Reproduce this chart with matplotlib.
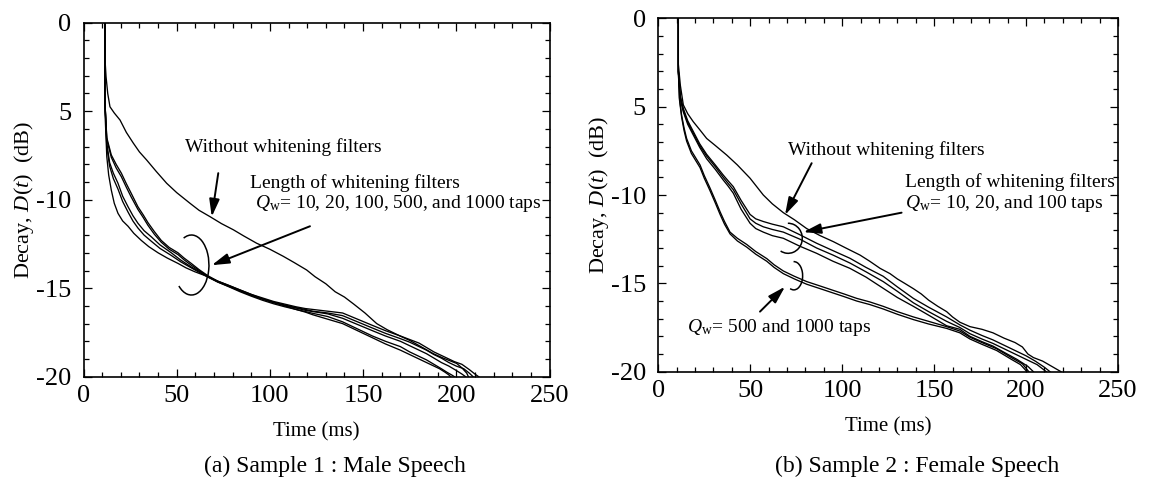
import matplotlib
matplotlib.use("Agg")
import matplotlib.pyplot as plt
from matplotlib.patches import Arc
from matplotlib.ticker import MultipleLocator

plt.rcParams['font.family'] = ['Liberation Serif', 'DejaVu Serif']
plt.rcParams['mathtext.fontset'] = 'custom'
plt.rcParams['mathtext.rm'] = 'Liberation Serif'
plt.rcParams['mathtext.it'] = 'Liberation Serif:italic'
plt.rcParams['axes.unicode_minus'] = False

# ---------------- data ----------------
x_ticks = [0, 50, 100, 150, 200, 250]
y_ticks = [0, -5, -10, -15, -20]
y_tick_labels = ["0", "5", "-10", "-15", "-20"]

# Sample 1 (male speech): (time ms, decay dB)
male_without = [(11.5, 0), (11.5, -2.0), (12.1, -3.05), (13.0, -4.0), (14.2, -4.75), (16.5, -5.1),
                (19.6, -5.5), (23, -6.2), (26.7, -6.8), (30, -7.3), (33.9, -7.76), (39, -8.4),
                (44.6, -9.07), (50, -9.6), (57.1, -10.2), (62, -10.6), (67.9, -10.96), (74, -11.35),
                (80.4, -11.7), (86, -12.05), (92.9, -12.46), (100, -12.8), (107.2, -13.2), (113, -13.55),
                (119.7, -13.97), (124.2, -14.35), (130, -14.75), (135, -15.2), (140, -15.5), (145, -15.9),
                (151, -16.4), (157.3, -17.0), (163, -17.35), (169.8, -17.7), (175, -17.95), (181, -18.3),
                (187.7, -18.7), (193, -18.95), (200.2, -19.25), (203, -19.5), (205.6, -19.8), (206.5, -20)]
male_q10 = [(11.5, 0), (11.5, -4.5), (12.5, -6.5), (14.9, -7.47), (17.5, -8.0), (20.3, -8.5), (23, -9.1),
            (25.6, -9.64), (29.2, -10.4), (32, -10.85), (34.6, -11.3), (38, -11.8), (41.7, -12.3),
            (46, -12.7), (50.7, -13.0), (54, -13.3), (57.8, -13.6), (62, -13.95), (66.8, -14.3),
            (72, -14.6), (78, -14.85), (84, -15.1), (90, -15.35), (96, -15.55), (102, -15.75),
            (108, -15.9), (114, -16.05), (119, -16.15), (123, -16.2), (131, -16.3), (139, -16.4),
            (147, -16.75), (155, -17.1), (162, -17.4), (170, -17.7), (175, -17.9), (180, -18.1),
            (184, -18.35), (188, -18.6), (192, -18.8), (195, -18.95), (199, -19.15), (203, -19.3),
            (207, -19.6), (210, -19.85), (212, -20)]
male_q20 = [(11.5, 0), (11.5, -4.5), (12.5, -6.6), (14.9, -7.6), (17.5, -8.2), (20.3, -8.7), (23, -9.3),
            (25.6, -9.85), (29.2, -10.55), (32, -11.0), (34.6, -11.45), (38, -11.95), (41.7, -12.4),
            (46, -12.8), (50.7, -13.1), (54, -13.4), (57.8, -13.7), (62, -14.0), (66.8, -14.35),
            (72, -14.65), (78, -14.9), (84, -15.15), (90, -15.4), (96, -15.6), (102, -15.8),
            (108, -15.95), (114, -16.1), (119, -16.2), (123, -16.3), (131, -16.4), (139, -16.55),
            (147, -16.9), (155, -17.25), (162, -17.55), (170, -17.85), (175, -18.05), (180, -18.3),
            (184, -18.5), (188, -18.75), (192, -18.95), (196, -19.2), (200, -19.4), (204, -19.55),
            (207, -19.8), (209, -20)]
male_q100 = [(11.5, 0), (11.5, -4.5), (12.5, -6.8), (14, -7.9), (16, -8.5), (18.5, -9.07), (21, -9.8),
             (23.9, -10.4), (26.5, -10.9), (29.2, -11.33), (32.5, -11.75), (36.4, -12.1), (41, -12.55),
             (47.1, -13.0), (52, -13.4), (57.8, -13.8), (62, -14.05), (66.8, -14.35), (72, -14.62),
             (78, -14.88), (84, -15.15), (90, -15.4), (96, -15.62), (102, -15.82), (108, -15.98),
             (114, -16.12), (119, -16.25), (123, -16.32), (131, -16.45), (139, -16.7), (147, -17.05),
             (155, -17.4), (162, -17.7), (170, -18.0), (175, -18.25), (180, -18.5), (184, -18.7),
             (188, -18.95), (192, -19.2), (196, -19.4), (200, -19.65), (203, -19.85), (205, -20)]
male_q500 = [(11.5, 0), (11.5, -4.5), (12.5, -7.0), (14, -8.1), (16, -8.8), (18.5, -9.4), (21, -10.1),
             (23.9, -10.7), (26.5, -11.2), (29.2, -11.6), (32.5, -12.0), (36.4, -12.35), (41, -12.75),
             (47.1, -13.15), (52, -13.5), (57.8, -13.85), (62, -14.1), (66.8, -14.38), (72, -14.65),
             (78, -14.92), (84, -15.2), (90, -15.45), (96, -15.68), (102, -15.88), (108, -16.05),
             (114, -16.2), (119, -16.32), (123, -16.42), (131, -16.6), (139, -16.9), (147, -17.3),
             (155, -17.7), (162, -18.0), (170, -18.3), (175, -18.6), (180, -18.85), (184, -19.05),
             (188, -19.3), (192, -19.55), (195, -19.75), (197.5, -19.9), (199, -20)]
male_q1000 = [(11.5, 0), (11.5, -5.0), (12.5, -7.57), (13.5, -8.6), (14.9, -9.45), (16.5, -10.2),
              (18.5, -10.77), (21, -11.2), (23.9, -11.5), (27, -11.9), (31, -12.3), (35, -12.65),
              (40, -13.0), (45, -13.3), (50.7, -13.6), (55, -13.85), (59.7, -14.07), (66.8, -14.35),
              (72, -14.6), (77.5, -14.82), (84, -15.1), (90, -15.35), (96, -15.6), (102, -15.8),
              (108, -16.0), (114, -16.2), (119, -16.35), (123, -16.5), (131, -16.75), (139, -17.0),
              (147, -17.4), (155, -17.8), (162, -18.15), (170, -18.5), (175, -18.75), (180, -19.0),
              (184, -19.2), (188, -19.4), (191, -19.55), (194, -19.75), (196, -19.9), (197, -20)]

# Sample 2 (female speech)
female_without = [(10.9, 0), (10.9, -2.6), (12, -3.8), (13.6, -4.9), (16, -5.4), (19, -5.85), (22.5, -6.3),
                  (26.3, -6.8), (31, -7.2), (37.2, -7.74), (43, -8.3), (49.9, -9.05), (57.1, -10.0),
                  (62, -10.5), (68, -11.0), (74, -11.4), (80.7, -11.9), (88, -12.3), (95.2, -12.64),
                  (102, -13.0), (109.7, -13.4), (115, -13.75), (120.6, -14.15), (126, -14.45),
                  (130, -14.75), (134, -15.0), (138.7, -15.3), (143, -15.6), (147, -15.95), (152, -16.3),
                  (156.8, -16.6), (160, -16.9), (164, -17.2), (169.5, -17.45), (176, -17.6), (182, -17.8),
                  (188, -18.1), (194, -18.35), (198, -18.6), (201, -19.0), (204, -19.2), (209, -19.4),
                  (214, -19.7), (219, -20)]
female_q10 = [(10.9, 0), (10.9, -3.0), (12, -4.4), (13.6, -5.1), (16, -5.8), (19, -6.4), (22.5, -7.1),
              (26.3, -7.7), (31, -8.3), (35.3, -8.87), (38, -9.2), (40.8, -9.53), (45, -10.3),
              (49.9, -11.1), (53, -11.35), (57.1, -11.5), (62, -11.65), (68, -11.8), (77, -12.25),
              (86.1, -12.73), (95, -13.15), (104.2, -13.58), (113, -14.1), (122.3, -14.6), (130, -15.2),
              (138.7, -15.85), (147, -16.35), (156.8, -16.9), (164, -17.35), (169.5, -17.65),
              (176, -17.95), (182, -18.2), (188, -18.5), (194, -18.8), (200, -19.1), (205, -19.4),
              (210, -19.75), (213, -20)]
female_q20 = [(10.9, 0), (10.9, -3.0), (12, -4.5), (13.6, -5.2), (16, -5.9), (19, -6.5), (22.5, -7.2),
              (26.3, -7.8), (31, -8.4), (35.3, -9.0), (38, -9.35), (40.8, -9.7), (45, -10.5),
              (49.9, -11.35), (53, -11.6), (57.1, -11.8), (62, -11.95), (68, -12.1), (77, -12.5),
              (86.1, -13.0), (95, -13.4), (104.2, -13.85), (113, -14.35), (122.3, -14.9), (130, -15.45),
              (138.7, -16.1), (147, -16.6), (156.8, -17.15), (164, -17.5), (169.5, -17.85),
              (176, -18.15), (182, -18.4), (188, -18.7), (194, -19.0), (200, -19.3), (206, -19.6),
              (211, -20)]
female_q100 = [(10.9, 0), (10.9, -3.0), (12, -4.6), (13.6, -5.3), (16, -6.0), (19, -6.6), (22.5, -7.3),
               (26.3, -7.95), (31, -8.55), (35.3, -9.15), (38, -9.5), (40.8, -9.9), (45, -10.8),
               (49.9, -11.6), (53, -11.9), (57.1, -12.1), (62, -12.3), (68, -12.45), (77, -12.9),
               (86.1, -13.3), (95, -13.75), (104.2, -14.15), (113, -14.65), (122.3, -15.28), (130, -15.8),
               (138.7, -16.3), (147, -16.8), (156.8, -17.4), (164, -17.6), (169.5, -18.0),
               (176, -18.3), (182, -18.55), (188, -18.9), (195, -19.3), (201, -19.7), (204, -20)]
female_q500 = [(10.9, 0), (10.9, -3.0), (11.5, -4.5), (12.7, -5.5), (14, -6.2), (15.4, -6.8), (18, -7.5),
               (22.7, -8.3), (25, -8.9), (28.1, -9.6), (31, -10.3), (33.6, -10.95), (36, -11.5),
               (39, -12.1), (43, -12.45), (48.1, -12.8), (53, -13.2), (59, -13.6), (63, -13.95),
               (68, -14.3), (74, -14.6), (80.7, -14.9), (88, -15.15), (95.2, -15.4), (101, -15.6),
               (107.9, -15.85), (115, -16.05), (122.3, -16.3), (130, -16.6), (138.7, -16.9),
               (147, -17.15), (156.8, -17.45), (164, -17.7), (169.5, -18.05), (176, -18.35),
               (184, -18.7), (192, -19.2), (198, -19.55), (201.5, -20)]
female_q1000 = [(10.9, 0), (10.9, -3.0), (11.5, -4.6), (12.7, -5.6), (14, -6.35), (15.4, -6.95), (18, -7.65),
                (22.7, -8.45), (25, -9.05), (28.1, -9.75), (31, -10.45), (33.6, -11.1), (36, -11.65),
                (39, -12.2), (43, -12.6), (48.1, -12.95), (53, -13.35), (59, -13.75), (63, -14.1),
                (68, -14.45), (74, -14.75), (80.7, -15.05), (88, -15.3), (95.2, -15.55), (101, -15.75),
                (107.9, -16.0), (115, -16.2), (122.3, -16.45), (130, -16.75), (138.7, -17.05),
                (147, -17.3), (156.8, -17.55), (164, -17.8), (169.5, -18.15), (176, -18.45),
                (184, -18.8), (192, -19.3), (197, -19.6), (200.5, -20)]

male_curves = [male_without, male_q10, male_q20, male_q100, male_q500, male_q1000]
female_curves = [female_without, female_q10, female_q20, female_q100, female_q500, female_q1000]

# ---------------- figure ----------------
W, H = 1149, 486
fig = plt.figure(figsize=(W / 100, H / 100), dpi=100)
ax1 = fig.add_axes([83.5 / W, 1 - 376.7 / H, 466 / W, 354 / H])
ax2 = fig.add_axes([658.3 / W, 1 - 371.7 / H, 459.7 / W, 353.4 / H])

TICK_FS = 19
XLABEL_FS = 15
YLABEL_FS = 16
ANN_FS = 14
TITLE_FS = 17

for ax, curves in ((ax1, male_curves), (ax2, female_curves)):
    for c in curves:
        ax.plot([p[0] for p in c], [p[1] for p in c], color='black', lw=0.95)
    ax.set_xlim(0, 250)
    ax.set_ylim(-20, 0)
    ax.set_xticks(x_ticks)
    ax.set_yticks(y_ticks)
    ax.set_yticklabels(y_tick_labels)
    ax.xaxis.set_minor_locator(MultipleLocator(10))
    ax.yaxis.set_minor_locator(MultipleLocator(1))
    ax.tick_params(which='both', direction='in', top=True, right=True, width=0.9)
    ax.tick_params(which='major', length=6, labelsize=TICK_FS)
    ax.tick_params(axis='y', which='major', pad=9)
    ax.tick_params(axis='x', which='major', pad=6)
    ax.tick_params(which='minor', length=3.5)
    for s in ax.spines.values():
        s.set_linewidth(1.2)
    ax.set_xlabel("Time (ms)", fontsize=XLABEL_FS, labelpad=11)
    ax.set_ylabel(r"Decay, $D(t)$  (dB)", fontsize=YLABEL_FS, labelpad=0)

arrow = dict(arrowstyle='-|>,head_length=0.75,head_width=0.22', color='black', lw=1.4,
             mutation_scale=14, shrinkA=0, shrinkB=0)

# ----- left annotations -----
ax1.text(54.5, -7.0, "Without whitening filters", fontsize=ANN_FS, ha='left', va='center')
ax1.annotate("", xy=(68.8, -10.96), xytext=(72.3, -8.5), arrowprops=arrow)
ax1.text(89.3, -9.07, "Length of whitening filters", fontsize=ANN_FS, ha='left', va='center')
ax1.text(92, -10.2, r"$Q_{\mathrm{w}}$= 10, 20, 100, 500, and 1000 taps", fontsize=ANN_FS,
         ha='left', va='center')
ax1.annotate("", xy=(68.8, -13.7), xytext=(121.5, -11.5), arrowprops=arrow)
ax1.add_patch(Arc((57.9, -13.69), 18.8, 3.39, theta1=190, theta2=160, color='black', lw=1.1))

# ----- right annotations -----
ax2.text(70.7, -7.45, "Without whitening filters", fontsize=ANN_FS, ha='left', va='center')
ax2.annotate("", xy=(68.9, -11.13), xytext=(83.4, -8.2), arrowprops=arrow)
ax2.text(134.2, -9.25, "Length of whitening filters", fontsize=ANN_FS, ha='left', va='center')
ax2.text(134.2, -10.47, r"$Q_{\mathrm{w}}$= 10, 20, and 100 taps", fontsize=ANN_FS,
         ha='left', va='center')
ax2.annotate("", xy=(78.9, -12.1), xytext=(132.3, -11.0), arrowprops=arrow)
ax2.add_patch(Arc((70.6, -12.45), 15.4, 1.7, theta1=190, theta2=100, color='black', lw=1.1))
ax2.add_patch(Arc((73.7, -14.57), 9.6, 1.6, theta1=200, theta2=100, color='black', lw=1.1))
ax2.annotate("", xy=(68.9, -15.19), xytext=(55.3, -16.6), arrowprops=arrow)
ax2.text(15.4, -17.5, r"$Q_{\mathrm{w}}$= 500 and 1000 taps", fontsize=ANN_FS, ha='left', va='center')

fig.text(335 / W, 1 - 466 / H, "(a) Sample 1 : Male Speech", fontsize=TITLE_FS, ha='center', va='center')
fig.text(917 / W, 1 - 466 / H, "(b) Sample 2 : Female Speech", fontsize=TITLE_FS, ha='center', va='center')

fig.savefig("out.png", dpi=100)
